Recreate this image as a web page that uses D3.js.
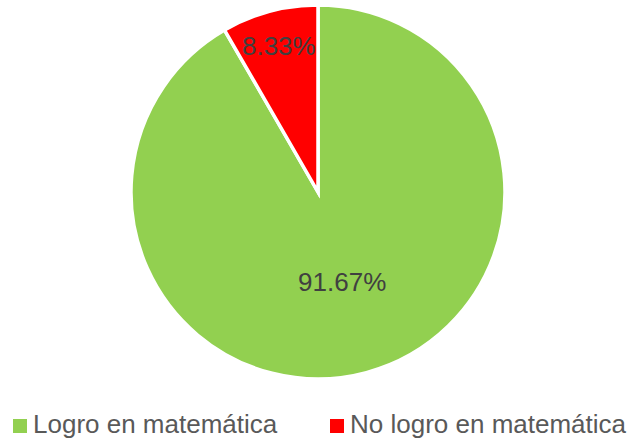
<!DOCTYPE html>
<html><head><meta charset="utf-8">
<script src="https://cdn.jsdelivr.net/npm/d3@7"></script>
<style>body{margin:0;background:#fff}svg{display:block}</style>
</head><body>
<script>
const categories = ["Logro en matemática", "No logro en matemática"];
const values = [91.67, 8.33];
const colors = ["#92D050", "#FF0000"];
const labels = ["91.67%", "8.33%"];

const W = 637, H = 441;
const cx = 318, cy = 192, R = 187;
const FONT = "Liberation Sans, Arial, sans-serif";
const svg = d3.select("body").append("svg").attr("width", W).attr("height", H);
const pie = d3.pie().sort(null).value(d => d)(values);
const arc = d3.arc().innerRadius(0).outerRadius(R);
const g = svg.append("g").attr("transform", `translate(${cx},${cy})`);
g.selectAll("path").data(pie).join("path")
  .attr("d", arc).attr("fill", (d, i) => colors[i])
  .attr("stroke", "#fff").attr("stroke-width", 3.5).attr("stroke-linejoin", "miter");
const labelR = [0.5 * R, 0.81 * R];
g.selectAll("text").data(pie).join("text")
  .attr("transform", (d, i) => {
    const a = (d.startAngle + d.endAngle) / 2;
    return `translate(${Math.sin(a) * labelR[i]},${-Math.cos(a) * labelR[i]})`;
  })
  .attr("text-anchor", "middle").attr("dy", "0.35em")
  .attr("font-family", FONT).attr("font-size", 26)
  .attr("fill", "#404040").text((d, i) => labels[i]);

const legendX = [13, 330];
const lg = svg.append("g");
categories.forEach((c, i) => {
  lg.append("rect").attr("x", legendX[i]).attr("y", 419).attr("width", 14).attr("height", 14).attr("fill", colors[i]);
  lg.append("text").attr("x", legendX[i] + 20).attr("y", 433)
    .attr("font-family", FONT).attr("font-size", 26)
    .attr("fill", "#595959").text(c);
});
</script>
</body></html>
